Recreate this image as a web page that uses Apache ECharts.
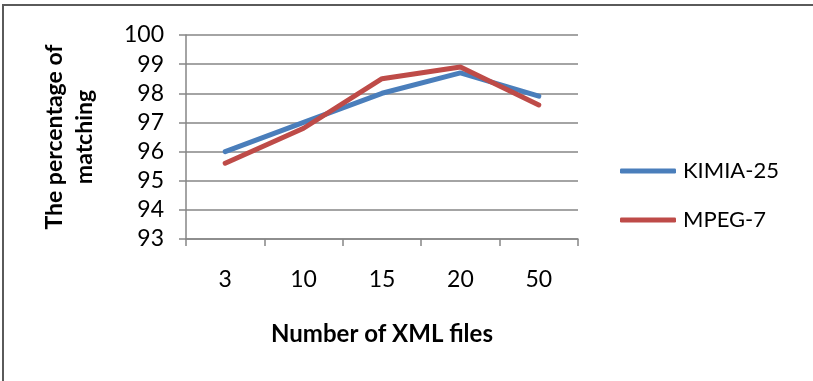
<!DOCTYPE html>
<html>
<head>
<meta charset="utf-8">
<script src="https://cdn.jsdelivr.net/npm/echarts@6/dist/echarts.min.js"></script>
<style>
html,body{margin:0;padding:0;background:#fff;}
#wrap{position:absolute;left:0;top:0;width:813px;height:381px;overflow:hidden;}
#frame{position:absolute;left:2px;top:4px;width:830px;height:400px;border-left:2px solid #5a5a5a;border-top:2px solid #5a5a5a;box-sizing:border-box;}
#chart{position:absolute;left:0;top:0;width:813px;height:381px;}
</style>
</head>
<body>
<div id="wrap"><div id="frame"></div><div id="chart"></div></div>
<script>
const categories = ['3', '10', '15', '20', '50'];
const kimia = [96.0, 97.0, 98.0, 98.7, 97.9];
const mpeg = [95.6, 96.8, 98.5, 98.9, 97.6];
const seriesNames = ['KIMIA-25', 'MPEG-7'];
const yMin = 93, yMax = 100, yStep = 1;

const font = 'Lato, "Open Sans", sans-serif';
const axisGray = '#868686';
const chart = echarts.init(document.getElementById('chart'), null, {renderer: 'canvas'});
chart.setOption({
  animation: false,
  backgroundColor: 'transparent',
  grid: {left: 186, right: 235, top: 35, bottom: 142, containLabel: false},
  legend: {
    orient: 'vertical', left: 615, top: 155, itemWidth: 56, itemHeight: 5, itemGap: 27,
    icon: 'roundRect',
    textStyle: {fontFamily: font, fontSize: 22, color: '#000', padding: [0, 0, 0, 2]},
    data: seriesNames
  },
  xAxis: {
    type: 'category', data: categories, boundaryGap: true,
    name: 'Number of XML files', nameLocation: 'middle', nameGap: 83,
    nameTextStyle: {fontFamily: font, fontSize: 24, fontWeight: 'bold', color: '#000'},
    axisLine: {lineStyle: {color: axisGray, width: 1.5}},
    axisTick: {show: true, length: 7, interval: 0, lineStyle: {color: axisGray, width: 1.5}},
    axisLabel: {fontFamily: font, fontSize: 23, color: '#000', margin: 29, interval: 0}
  },
  yAxis: {
    type: 'value', min: yMin, max: yMax, interval: yStep,
    name: 'The percentage of\nmatching', nameLocation: 'middle', nameGap: 86, nameRotate: 90,
    nameTextStyle: {fontFamily: font, fontSize: 23, fontWeight: 'bold', color: '#000', lineHeight: 30},
    axisLine: {show: true, lineStyle: {color: axisGray, width: 1.5}},
    axisTick: {show: true, length: 7, lineStyle: {color: axisGray, width: 1.5}},
    splitLine: {show: true, lineStyle: {color: axisGray, width: 1.5}},
    axisLabel: {fontFamily: font, fontSize: 23, color: '#000', margin: 22}
  },
  series: [
    {name: seriesNames[0], type: 'line', data: kimia, showSymbol: false, symbol: 'none',
     lineStyle: {color: '#4a7ebb', width: 5, cap: 'round', join: 'round'}, itemStyle: {color: '#4a7ebb'}},
    {name: seriesNames[1], type: 'line', data: mpeg, showSymbol: false, symbol: 'none',
     lineStyle: {color: '#be4b48', width: 5, cap: 'round', join: 'round'}, itemStyle: {color: '#be4b48'}}
  ]
});
</script>
</body>
</html>
